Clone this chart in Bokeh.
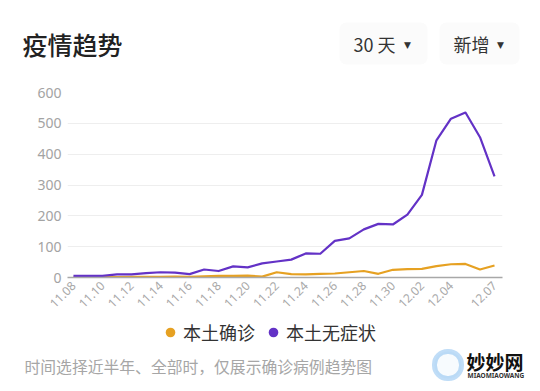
import math
from bokeh.plotting import figure
from bokeh.layouts import column
from bokeh.models import (ColumnDataSource, FixedTicker, Label, Legend, LegendItem,
                          BoxAnnotation, Range1d)
from bokeh.embed import file_html
from bokeh.resources import INLINE

# ---------------- data ----------------
dates = ["11.08", "11.09", "11.10", "11.11", "11.12", "11.13", "11.14", "11.15",
         "11.16", "11.17", "11.18", "11.19", "11.20", "11.21", "11.22", "11.23",
         "11.24", "11.25", "11.26", "11.27", "11.28", "11.29", "11.30", "12.01",
         "12.02", "12.03", "12.04", "12.05", "12.06", "12.07"]
confirmed = [0, 0, 1, 1, 2, 2, 2, 3, 2, 4, 5, 5, 6, 3, 17, 11,
             10, 12, 13, 17, 21, 12, 25, 27, 28, 37, 43, 44, 26, 39]
asymptomatic = [5, 5, 5, 10, 10, 14, 17, 16, 11, 26, 21, 36, 33, 46, 52, 58,
                78, 77, 119, 127, 156, 174, 172, 204, 268, 445, 515, 535, 455, 328]
tick_labels = ["11.08", "11.10", "11.12", "11.14", "11.16", "11.18", "11.20",
               "11.22", "11.24", "11.26", "11.28", "11.30", "12.02", "12.04", "12.07"]
y_ticks = [0, 100, 200, 300, 400, 500, 600]
series_names = ["本土确诊", "本土无症状"]

ORANGE = "#E6A122"
PURPLE = "#6332C6"
CJK = "Noto Sans CJK SC"
CJK_MED = "'Noto Sans CJK SC Medium', 'Noto Sans CJK SC'"

# ---------------- layout (window px) ----------------
W = 536
HEAD_H = 80          # header strip: y 0..80
CHART_TOP, CHART_BOT = 80, 318
FOOT_BOT = 388
FL, FR, FT, FB = 67, 502, 92, 277   # plot frame in window px


def blank(height, y0):
    f = figure(width=W, height=height, output_backend="svg", toolbar_location=None,
               x_range=Range1d(0, W), y_range=Range1d(y0 + height, y0),
               x_axis_location=None, y_axis_location=None, min_border=0,
               frame_align=False)
    f.outline_line_color = None
    f.grid.grid_line_color = None
    f.background_fill_color = "white"
    f.border_fill_color = "white"
    return f


def add_text(f, px, py, text, size, color, align="left", style="normal", font=CJK):
    f.add_layout(Label(x=px, y=py, text=text, text_font=font, text_font_size=size,
                       text_color=color, text_align=align, text_baseline="middle",
                       text_font_style=style))


def add_box(f, l, t, r, b, **kw):
    f.add_layout(BoxAnnotation(left=l, right=r, top=t, bottom=b, **kw))


# ---------------- header ----------------
head = blank(HEAD_H, 0)
add_text(head, 22, 43, "疫情趋势", "25px", "#222222", font=CJK_MED)
add_box(head, 339, 22, 427, 64, fill_color="#f6f6f6", line_color=None, border_radius=7)
add_box(head, 439, 22, 519, 64, fill_color="#f6f6f6", line_color=None, border_radius=7)
add_text(head, 353, 43, "30 天", "18px", "#333333")
add_text(head, 407, 44, "▼", "9px", "#333333", align="center", font="DejaVu Sans")
add_text(head, 453, 43, "新增", "18px", "#333333")
add_text(head, 500, 44, "▼", "9px", "#333333", align="center", font="DejaVu Sans")

# ---------------- chart ----------------
days = list(range(len(dates)))
src = ColumnDataSource(dict(day=days, confirmed=confirmed, asym=asymptomatic))

p = figure(width=W, height=CHART_BOT - CHART_TOP, output_backend="svg",
           toolbar_location=None, frame_align=False,
           x_range=Range1d(-0.41, 29.55), y_range=Range1d(0, 600),
           min_border_left=FL, min_border_right=W - FR,
           min_border_top=FT - CHART_TOP, min_border_bottom=CHART_BOT - FB)
p.outline_line_color = None
p.background_fill_color = "white"
p.border_fill_color = "white"

p.yaxis.ticker = FixedTicker(ticks=y_ticks)
p.yaxis.axis_line_color = None
p.yaxis.major_tick_line_color = None
p.yaxis.major_tick_out = 0
p.yaxis.minor_tick_line_color = None
p.yaxis.major_label_standoff = 6
p.yaxis.major_label_text_font = "Noto Sans"
p.yaxis.major_label_text_font_size = "14px"
p.yaxis.major_label_text_color = "#a3a3a3"

tick_pos = [dates.index(t) for t in tick_labels]
p.xaxis.ticker = FixedTicker(ticks=tick_pos)
p.xaxis.major_label_overrides = {i: dates[i] for i in tick_pos}
p.xaxis.major_label_orientation = math.pi / 4
p.xaxis.axis_line_color = "#a8a8a8"
p.xaxis.axis_line_width = 1.5
p.xaxis.major_tick_line_color = None
p.xaxis.major_tick_out = 0
p.xaxis.minor_tick_line_color = None
p.xaxis.major_label_standoff = 6
p.xaxis.major_label_text_font = "Noto Sans"
p.xaxis.major_label_text_font_size = "12px"
p.xaxis.major_label_text_color = "#a8a8a8"

p.xgrid.grid_line_color = None
p.ygrid.ticker = FixedTicker(ticks=y_ticks)
p.ygrid.grid_line_color = "#eeeeee"
p.ygrid.grid_line_width = 1

p.line(x="day", y="confirmed", source=src, line_color=ORANGE, line_width=2.2,
       line_join="round")
p.line(x="day", y="asym", source=src, line_color=PURPLE, line_width=2.2,
       line_join="round")

# ---------------- footer ----------------
foot = blank(FOOT_BOT - CHART_BOT, CHART_BOT)
# zero-size marker renderers: only used for the legend's dot glyphs
r1 = foot.scatter(x="day", y="confirmed", source=src, size=0,
                  fill_color=ORANGE, line_color=None)
r2 = foot.scatter(x="day", y="asym", source=src, size=0,
                  fill_color=PURPLE, line_color=None)
legend = Legend(items=[LegendItem(label=series_names[0], renderers=[r1]),
                       LegendItem(label=series_names[1], renderers=[r2])],
                orientation="horizontal", location=(158, FOOT_BOT - 345),
                glyph_width=24, glyph_height=24, label_standoff=1, spacing=6,
                padding=0, margin=0, border_line_color=None,
                background_fill_alpha=0, label_text_font=CJK,
                label_text_font_size="18px", label_text_color="#333333",
                label_height=24)
foot.add_layout(legend)

add_text(foot, 24, 366, "时间选择近半年、全部时，仅展示确诊病例趋势图", "15.8px", "#a6a6a6")
add_box(foot, 434, 351, 461, 378, fill_color="#eaf5fd", line_color="#2d8ee6",
        line_width=5, border_radius=13)
add_text(foot, 466, 361, "妙妙网", "19px", "#111111", style="bold")
add_text(foot, 467, 375, "MIAOMIAOWANG", "6.5px", "#333333", style="bold",
         font="Noto Sans")

layout = column(head, p, foot, spacing=0)
open("out.html", "w").write(file_html(layout, INLINE))
